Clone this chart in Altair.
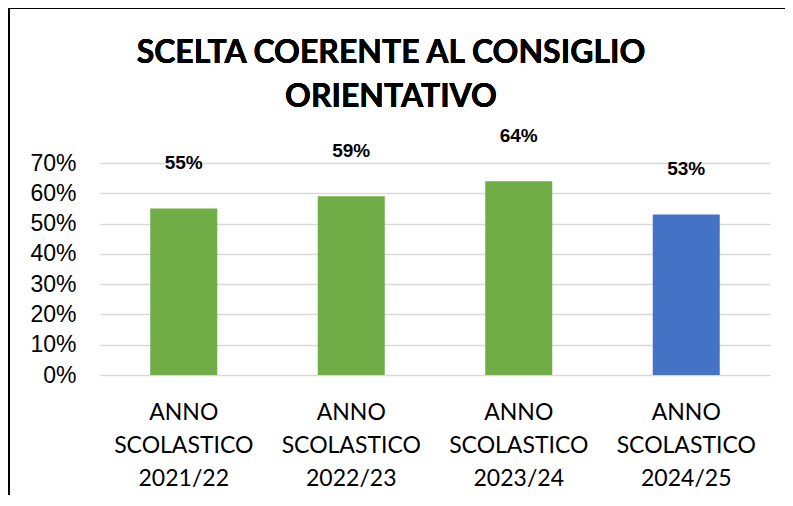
import altair as alt
import pandas as pd

categories = ["ANNO SCOLASTICO 2021/22", "ANNO SCOLASTICO 2022/23",
              "ANNO SCOLASTICO 2023/24", "ANNO SCOLASTICO 2024/25"]
values = [55, 59, 64, 53]
colors = ["#70AD47", "#70AD47", "#70AD47", "#4472C4"]
title_lines = ["SCELTA COERENTE AL CONSIGLIO", "ORIENTATIVO"]
y_ticks = [0, 0.1, 0.2, 0.3, 0.4, 0.5, 0.6, 0.7]

df = pd.DataFrame({"cat": categories, "val": [v / 100 for v in values], "color": colors,
                   "label": [f"{v}%" for v in values]})

x = alt.X("cat:N", sort=categories, title=None,
          scale=alt.Scale(paddingInner=0.6, paddingOuter=0.3),
          axis=alt.Axis(labelAngle=0, labelExpr="split(datum.label, ' ')",
                        labelFont="Lato", labelFontSize=23,
                        labelColor="#000000", labelLineHeight=33, labelBaseline="top",
                        labelPadding=26, domain=False, ticks=False, grid=False))
y = alt.Y("val:Q", title=None,
          scale=alt.Scale(domain=[0, 0.7], nice=False),
          axis=alt.Axis(format=".0%", values=y_ticks,
                        labelFont="Liberation Sans", labelFontSize=23, labelColor="#000000",
                        labelPadding=24, labelOverlap=False, labelBound=False,
                        domain=False, ticks=False,
                        gridColor="#D9D9D9", gridWidth=1.5))

bars = alt.Chart(df).mark_bar().encode(x=x, y=y, color=alt.Color("color:N", scale=None))
labels = alt.Chart(df).mark_text(font="Liberation Sans", fontSize=19, fontWeight="bold",
                                 color="#000000", dy=-45, baseline="middle").encode(
    x=x, y=y, text="label:N")

title = alt.Chart(df).mark_text(font="Lato", fontSize=32, fontWeight="bold", color="#000000",
                                lineHeight=44, baseline="alphabetic", align="center").encode(
    x=alt.value(291), y=alt.value(-100), text=alt.value(title_lines))

frame_left = alt.Chart(df).mark_rule(color="#000000", strokeWidth=2).encode(
    x=alt.value(-91), y=alt.value(-155), y2=alt.value(360))
frame_top = alt.Chart(df).mark_rule(color="#000000", strokeWidth=2).encode(
    x=alt.value(-92), x2=alt.value(700), y=alt.value(-155))

chart = alt.layer(bars, labels, title, frame_left, frame_top).properties(
    width=670, height=212,
    background="#FFFFFF",
    autosize=alt.AutoSizeParams(type="none"),
    padding={"left": 92, "top": 155, "right": 15, "bottom": 120},
).configure_view(strokeWidth=0, stroke="transparent")

chart.save("out.html", embed_options={"renderer": "svg", "actions": False})
